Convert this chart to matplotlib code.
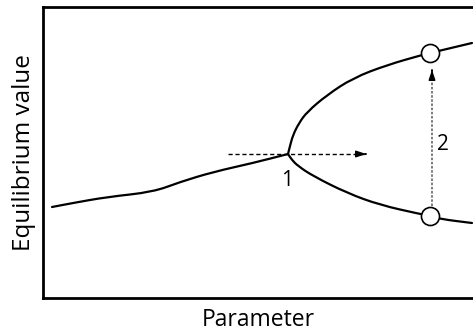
import matplotlib.pyplot as plt
from matplotlib.path import Path
from matplotlib.patches import PathPatch

plt.rcParams['font.family'] = ['Open Sans', 'DejaVu Sans']

# curve (arbitrary units)
stem_x = [9, 30, 64, 110, 137, 170, 210, 245]
stem_y = [91, 95, 101, 106, 116, 126, 135, 144]
upper_x = [245, 247, 250, 256, 264, 284, 310, 344, 379, 387, 429]
upper_y = [144, 152, 163, 175, 186, 203, 220, 233, 243, 245, 255]
lower_x = [245, 249, 255, 270, 304, 337, 377, 388, 397, 429]
lower_y = [144, 138, 132, 122, 105, 93, 84, 82, 79, 75]

# marked equilibria and the two arrows
circle_x = [387, 387]
circle_y = [245, 82]
arrow1_x = [185, 322]
arrow1_y = [144, 144]
arrow2_x = [389, 389]
arrow2_y = [92, 228]


def smooth_path(xs, ys):
    # quadratic bezier through the midpoints, points act as control points
    pts = list(zip(xs, ys))
    verts = [pts[0]]
    codes = [Path.MOVETO]
    mid = ((pts[0][0] + pts[1][0]) / 2, (pts[0][1] + pts[1][1]) / 2)
    verts.append(mid)
    codes.append(Path.LINETO)
    for i in range(1, len(pts) - 1):
        nxt = ((pts[i][0] + pts[i + 1][0]) / 2, (pts[i][1] + pts[i + 1][1]) / 2)
        verts += [pts[i], nxt]
        codes += [Path.CURVE3, Path.CURVE3]
    verts.append(pts[-1])
    codes.append(Path.LINETO)
    return Path(verts, codes)


fig = plt.figure(figsize=(4.73, 3.36), dpi=100)
ax = fig.add_axes([43 / 473, 38 / 336, 1 - 43 / 473, 291 / 336])
ax.set_xlim(0, 430)
ax.set_ylim(0, 291)

lw = 1.6
for xs, ys in [(stem_x, stem_y), (upper_x, upper_y), (lower_x, lower_y)]:
    ax.add_patch(PathPatch(smooth_path(xs, ys), fill=False, edgecolor='black',
                           lw=lw, capstyle='round', joinstyle='round'))

# horizontal dashed arrow
ax.plot(arrow1_x, arrow1_y, color='black', lw=1, linestyle=(0, (3, 2)))
ax.annotate('', xy=(arrow1_x[1] + 4, arrow1_y[1]), xytext=(arrow1_x[1] - 2, arrow1_y[1]),
            arrowprops=dict(arrowstyle='-|>,head_length=0.6,head_width=0.2',
                            color='black', lw=1))

# vertical dotted arrow
ax.plot(arrow2_x, arrow2_y, color='#666666', lw=1.2, linestyle=(0, (1.5, 1)))
ax.annotate('', xy=(arrow2_x[1], arrow2_y[1] + 3), xytext=(arrow2_x[1], arrow2_y[1] - 3),
            arrowprops=dict(arrowstyle='-|>,head_length=0.6,head_width=0.2',
                            color='black', lw=1))

ax.plot(circle_x, circle_y, 'o', ms=13, mfc='white', mec='black', mew=1.2, zorder=5)

ax.text(244, 117, '1', fontsize=15, ha='center', va='center')
ax.text(400, 153, '2', fontsize=15, ha='center', va='center')

ax.set_xticks([])
ax.set_yticks([])
for side in ['left', 'bottom', 'top']:
    ax.spines[side].set_linewidth(2)
ax.spines['right'].set_visible(False)

ax.set_xlabel('Parameter', fontsize=16.5, labelpad=7)
ax.set_ylabel('Equilibrium value', fontsize=17.5, labelpad=5)

fig.savefig('out.png', dpi=100)
